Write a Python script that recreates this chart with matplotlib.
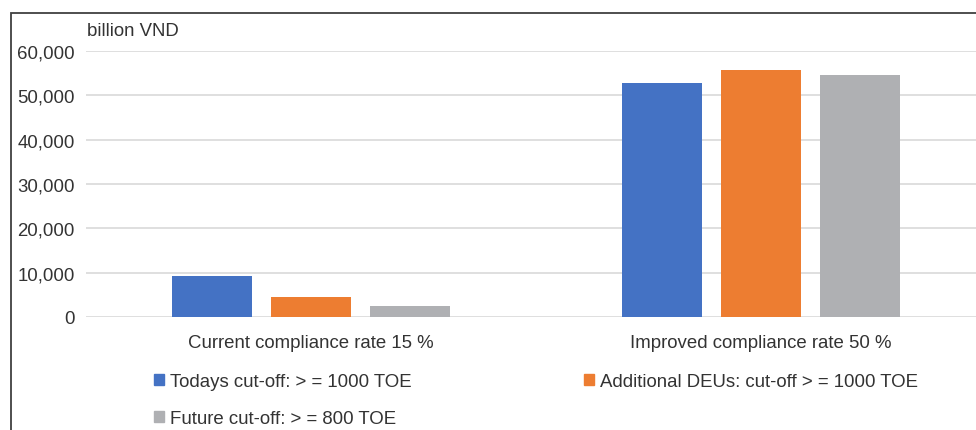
import matplotlib
matplotlib.use("Agg")
import matplotlib.pyplot as plt
import numpy as np
from matplotlib.patches import Rectangle, Patch
from matplotlib.ticker import FuncFormatter

# data (billion VND)
categories = ["Current compliance rate 15 %", "Improved compliance rate 50 %"]
series_names = ["Todays cut-off: > = 1000 TOE",
                "Additional DEUs: cut-off > = 1000 TOE",
                "Future cut-off: > = 800 TOE"]
todays = [9250, 52800]
additional = [4500, 55700]
future = [2450, 54600]
y_ticks = [0, 10000, 20000, 30000, 40000, 50000, 60000]

colors = ["#4472C4", "#ED7D31", "#AFB0B3"]
text_color = "#333333"
fs = 13.4

plt.rcParams["font.family"] = ["Liberation Sans", "DejaVu Sans"]

fig = plt.figure(figsize=(9.76, 4.31), dpi=100)
ax = fig.add_axes([86 / 976, 113 / 431, 900 / 976, 266 / 431])

x = np.arange(len(categories))
w = 0.1756
off = 0.22
values = [todays, additional, future]
for i, vals in enumerate(values):
    ax.bar(x + (i - 1) * off, vals, width=w, color=colors[i], label=series_names[i], zorder=3)

ax.set_xlim(-0.5, 1.5)
ax.set_ylim(0, 60000)
ax.set_yticks(y_ticks)
ax.yaxis.set_major_formatter(FuncFormatter(lambda v, p: f"{int(v):,}"))
ax.set_xticks(x)
ax.set_xticklabels(categories)
ax.grid(axis="y", color="#d9d9d9", linewidth=1.2, zorder=0)
for s in ax.spines.values():
    s.set_visible(False)
ax.tick_params(axis="both", length=0, labelsize=fs, colors=text_color)
ax.tick_params(axis="x", pad=12)
ax.tick_params(axis="y", pad=8)

fig.text(87 / 976, 1 - 32 / 431, "billion VND", fontsize=fs, color=text_color,
         ha="left", va="center")

# outer frame
fig.patches.append(Rectangle((10.5 / 976, -0.5), 2, 1.5 - 14 / 431, transform=fig.transFigure,
                             fill=False, edgecolor="#404040", linewidth=1.3))

handles = [Patch(color=colors[0]), Patch(color=colors[2]), Patch(color=colors[1])]
labels = [series_names[0], series_names[2], series_names[1]]
fig.legend(handles, labels, ncol=2, loc="upper left",
           bbox_to_anchor=(154 / 976, 1 - 374 / 431), frameon=False,
           fontsize=fs, labelcolor=text_color, handlelength=0.55, handleheight=0.55,
           handletextpad=0.3, columnspacing=9.27, labelspacing=1.1,
           borderpad=0, borderaxespad=0)

fig.savefig("out.png", dpi=100)
